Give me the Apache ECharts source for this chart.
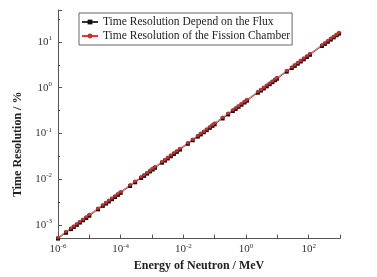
<!DOCTYPE html>
<html>
<head>
<meta charset="utf-8">
<script src="https://cdn.jsdelivr.net/npm/echarts@6/dist/echarts.min.js"></script>
<style>
  html, body { margin: 0; padding: 0; background: #fff; }
  #chart { width: 377px; height: 277px; }
</style>
</head>
<body>
<div id="chart"></div>
<script>
// neutron energy (MeV)
const energies = [
  1.0e-6, 1.8e-6, 2.6e-6, 3.2e-6, 4e-6, 5e-6, 6.3e-6, 8e-6, 1e-5,
  1.9e-5, 2.7e-5,
  3.4e-5, 4.2e-5, 5.3e-5, 6.6e-5, 8.2e-5, 1e-4,
  2e-4, 2.9e-4,
  4.5e-4, 5.6e-4, 7e-4, 8.7e-4, 1.05e-3, 1.25e-3,
  2.1e-3, 2.6e-3, 3.2e-3, 4e-3, 5e-3, 6.2e-3, 7.8e-3,
  1.4e-2, 2e-2,
  2.9e-2, 3.6e-2, 4.5e-2, 5.6e-2, 7e-2, 8.5e-2, 0.1,
  0.18, 0.27,
  0.38, 0.47, 0.58, 0.72, 0.9, 1.08,
  2.4, 3, 3.7, 4.6, 5.7, 7, 8.5, 9.8,
  20,
  29, 36, 45, 56, 70, 88, 110,
  267,
  330, 410, 510, 630, 780, 930
];

// time resolution (%), depend on the flux
const fluxRes = [
  5.0e-4, 6.71e-4, 8.06e-4, 8.94e-4, 1.0e-3, 1.12e-3, 1.26e-3, 1.41e-3, 1.58e-3,
  2.18e-3, 2.60e-3,
  2.92e-3, 3.24e-3, 3.64e-3, 4.06e-3, 4.53e-3, 5.0e-3,
  7.07e-3, 8.51e-3,
  1.06e-2, 1.18e-2, 1.32e-2, 1.47e-2, 1.62e-2, 1.77e-2,
  2.29e-2, 2.55e-2, 2.83e-2, 3.16e-2, 3.54e-2, 3.94e-2, 4.42e-2,
  5.92e-2, 7.07e-2,
  8.51e-2, 9.48e-2, 0.106, 0.118, 0.132, 0.146, 0.158,
  0.212, 0.260,
  0.308, 0.343, 0.381, 0.424, 0.474, 0.520,
  0.775, 0.866, 0.962, 1.07, 1.19, 1.32, 1.46, 1.57,
  2.24,
  2.69, 3.0, 3.35, 3.74, 4.18, 4.69, 5.24,
  8.17,
  9.08, 10.1, 11.3, 12.6, 14.0, 15.2
];

// time resolution (%), fission chamber
const chamberRes = [
  5.3e-4, 7.11e-4, 8.54e-4, 9.48e-4, 1.06e-3, 1.19e-3, 1.33e-3, 1.50e-3, 1.68e-3,
  2.31e-3, 2.75e-3,
  3.09e-3, 3.43e-3, 3.86e-3, 4.31e-3, 4.80e-3, 5.30e-3,
  7.49e-3, 9.03e-3,
  1.12e-2, 1.25e-2, 1.40e-2, 1.56e-2, 1.72e-2, 1.87e-2,
  2.43e-2, 2.70e-2, 3.00e-2, 3.35e-2, 3.75e-2, 4.17e-2, 4.68e-2,
  6.27e-2, 7.49e-2,
  9.03e-2, 0.101, 0.112, 0.125, 0.140, 0.154, 0.168,
  0.225, 0.275,
  0.327, 0.363, 0.404, 0.450, 0.503, 0.551,
  0.821, 0.918, 1.02, 1.14, 1.27, 1.40, 1.54, 1.66,
  2.37,
  2.85, 3.18, 3.56, 3.97, 4.43, 4.97, 5.56,
  8.66,
  9.63, 10.7, 12.0, 13.3, 14.8, 16.2
];

const seriesNames = [
  "Time Resolution Depend on the Flux",
  "Time Resolution of the Fission Chamber"
];

// axis extents (MeV / %), drawn on log10 value axes
const xRange = [1e-6, 1e3];
const yRange = [5e-4, 50];

const serif = "Liberation Serif, Times New Roman, serif";

// powers of ten label: 10 with a superscript exponent
const powLabel = (v, step) => {
  const n = Math.round(v);
  if (Math.abs(v - n) > 1e-6) return "";
  if (step && n % step !== 0) return "";
  return "{b|10}{s|" + n + "}";
};

const labelRich = {
  b: {fontFamily: serif, fontSize: 11, color: "#333", lineHeight: 14},
  s: {fontFamily: serif, fontSize: 7, color: "#333", lineHeight: 14, verticalAlign: "top", padding: [0, 0, 4, 0]},
};

const toPts = (ys) => energies.map((e, i) => [Math.log10(e), Math.log10(ys[i])]);

const chart = echarts.init(document.getElementById("chart"));

chart.setOption({
  animation: false,
  backgroundColor: "#fff",
  grid: {left: 58, right: 37, top: 10, bottom: 34},
  legend: {
    orient: "vertical",
    left: 79,
    top: 13,
    padding: [3, 2, 3, 2],
    itemGap: 2,
    itemWidth: 16,
    itemHeight: 6,
    borderColor: "#666",
    borderWidth: 1,
    textStyle: {fontFamily: serif, fontSize: 11.5, color: "#222"},
    data: seriesNames,
  },
  xAxis: {
    type: "value",
    min: Math.log10(xRange[0]),
    max: Math.log10(xRange[1]),
    interval: 2,
    name: "Energy of Neutron / MeV",
    nameLocation: "middle",
    nameGap: 18,
    nameTextStyle: {fontFamily: serif, fontSize: 12, fontWeight: "bold", color: "#222"},
    axisLine: {onZero: false, lineStyle: {color: "#555", width: 1}},
    axisTick: {inside: true, length: 4, lineStyle: {color: "#555"}},
    minorTick: {show: true, splitNumber: 2, length: 4, lineStyle: {color: "#555"}},
    splitLine: {show: false},
    axisLabel: {margin: 4, formatter: (v) => powLabel(v, 2), rich: labelRich},
  },
  yAxis: {
    type: "value",
    min: Math.log10(yRange[0]),
    max: Math.log10(yRange[1]),
    name: "Time Resolution / %",
    nameLocation: "middle",
    nameGap: 34,
    nameTextStyle: {fontFamily: serif, fontSize: 12, fontWeight: "bold", color: "#222", padding: [0, 40, 0, 0]},
    axisLine: {show: true, onZero: false, lineStyle: {color: "#555", width: 1}},
    axisTick: {inside: true, length: 4, lineStyle: {color: "#555"}},
    minorTick: {show: true, splitNumber: 2, length: 2, lineStyle: {color: "#555"}},
    splitLine: {show: false},
    axisLabel: {margin: 6, formatter: (v) => powLabel(v), rich: labelRich},
  },
  series: [
    {
      name: seriesNames[0],
      type: "line",
      data: toPts(fluxRes),
      symbol: "rect",
      symbolSize: 4,
      itemStyle: {color: "#111"},
      lineStyle: {color: "#333", width: 0.8},
      z: 2,
    },
    {
      name: seriesNames[1],
      type: "line",
      data: toPts(chamberRes),
      symbol: "circle",
      symbolSize: 3.5,
      itemStyle: {color: "#c83030"},
      lineStyle: {color: "#e33", width: 0.8},
      z: 3,
    },
  ],
});
</script>
</body>
</html>
